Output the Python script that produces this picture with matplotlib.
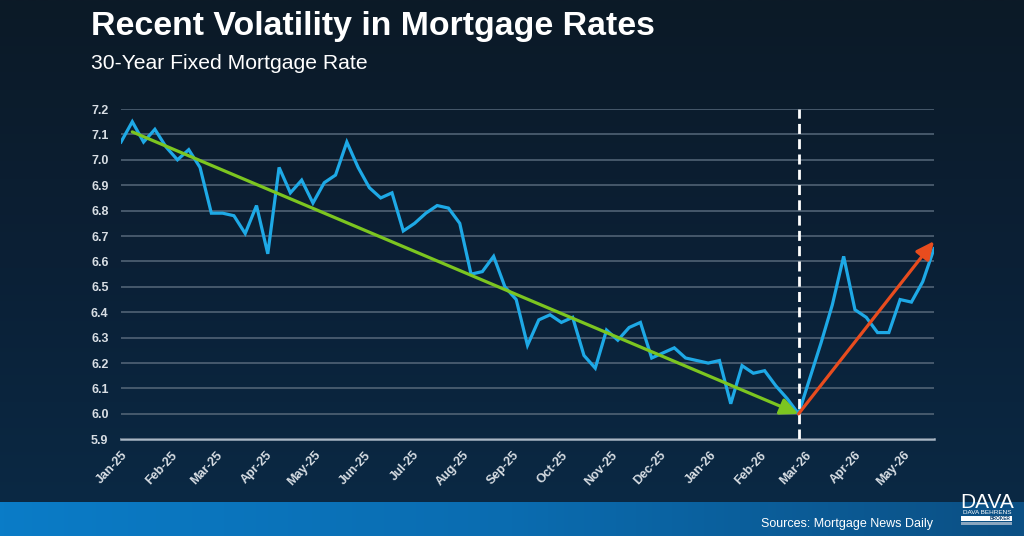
import numpy as np
import pandas as pd
import matplotlib
matplotlib.use('Agg')
import matplotlib.pyplot as plt
import matplotlib.dates as mdates
from matplotlib.colors import LinearSegmentedColormap
from matplotlib.patches import Rectangle

# ---------------- data ----------------
start_date = '2025-01-01'
rates = [7.07, 7.15, 7.07, 7.12, 7.05, 7.00, 7.04, 6.97, 6.79, 6.79,
         6.78, 6.71, 6.82, 6.63, 6.97, 6.87, 6.92, 6.83, 6.91, 6.94,
         7.07, 6.97, 6.89, 6.85, 6.87, 6.72, 6.75, 6.79, 6.82, 6.81,
         6.75, 6.55, 6.56, 6.62, 6.50, 6.45, 6.27, 6.37, 6.39, 6.36,
         6.38, 6.23, 6.18, 6.33, 6.29, 6.34, 6.36, 6.22, 6.24, 6.26,
         6.22, 6.21, 6.20, 6.21, 6.04, 6.19, 6.16, 6.17, 6.11, 6.06,
         6.00, 6.14, 6.28, 6.43, 6.62, 6.41, 6.38, 6.32, 6.32, 6.45,
         6.44, 6.52, 6.65]
dates = pd.date_range(start_date, periods=len(rates), freq='7D')

y_ticks = [5.9, 6.0, 6.1, 6.2, 6.3, 6.4, 6.5, 6.6, 6.7, 6.8, 6.9, 7.0, 7.1, 7.2]
down_trend_start = 7.11   # value where the green trend arrow starts (2nd week)
down_trend_start_idx = 1
up_trend_end = 6.68       # value where the red trend arrow ends (last week)

title = 'Recent Volatility in Mortgage Rates'
subtitle = '30-Year Fixed Mortgage Rate'
source = 'Sources: Mortgage News Daily'

# ---------------- figure ----------------
W, H = 1024, 536
fig = plt.figure(figsize=(W / 100, H / 100), dpi=100)
plt.rcParams['font.family'] = ['Liberation Sans', 'DejaVu Sans']

# background gradient
bg = fig.add_axes([0, 0, 1, 1], zorder=-10)
bg.set_xlim(0, 1)
bg.set_ylim(0, 1)
bg.axis('off')
vcmap = LinearSegmentedColormap.from_list('v', ['#0a2a46', '#0b2036', '#0c1a27'])
grad = np.linspace(0, 1, 256).reshape(-1, 1)
bg.imshow(grad, extent=[0, 1, 0, 1], aspect='auto', cmap=vcmap, origin='lower')
band_h = 34 / H
hcmap = LinearSegmentedColormap.from_list('h', ['#0a7cc7', '#0a6cb0', '#0c4f83'])
hgrad = np.linspace(0, 1, 256).reshape(1, -1)
bg.imshow(hgrad, extent=[0, 1, 0, band_h], aspect='auto', cmap=hcmap, origin='lower')

# main axes
left, right = 121 / W, 934 / W
bottom, top = 1 - 439.3 / H, 1 - 109 / H
ax = fig.add_axes([left, bottom, right - left, top - bottom])
ax.patch.set_alpha(0)

ax.set_ylim(y_ticks[0], y_ticks[-1])
ax.set_yticks(y_ticks)
ax.set_yticklabels([f'{v:.1f}' for v in y_ticks])
ax.set_xlim(dates[0], dates[-1])
ax.xaxis.set_major_locator(mdates.MonthLocator())
ax.xaxis.set_major_formatter(mdates.DateFormatter('%b-%y'))

for s in ['top', 'right', 'left']:
    ax.spines[s].set_visible(False)
ax.spines['bottom'].set_color('#a9b7c4')
ax.spines['bottom'].set_linewidth(1.8)
ax.spines['bottom'].set_zorder(1)

ax.grid(axis='y', color='#56687a', lw=1.1, zorder=0)
ax.grid(axis='x', visible=False)
ax.tick_params(axis='both', length=0, colors='#d8dee4', labelsize=9)
ax.tick_params(axis='y', pad=9)
ax.tick_params(axis='x', pad=7)
for lab in ax.get_yticklabels():
    lab.set_fontweight('bold')
for lab in ax.get_xticklabels():
    lab.set_rotation(47)
    lab.set_ha('right')
    lab.set_rotation_mode('anchor')
    lab.set_fontweight('bold')

# rate line
ax.plot(dates, rates, color='#1ea9e6', lw=2.3, zorder=3, solid_joinstyle='miter')

low_idx = int(np.argmin(rates))
ax.axvline(dates[low_idx], color='white', lw=2, ls=(0, (3.6, 1.9)), zorder=4)

arrow_style = '-|>,head_length=0.9,head_width=0.42'
ax.annotate('', xy=(dates[low_idx], rates[low_idx]),
            xytext=(dates[down_trend_start_idx], down_trend_start),
            arrowprops=dict(arrowstyle=arrow_style, color='#7cc520', lw=2.3,
                            shrinkA=0, shrinkB=0, mutation_scale=12), zorder=5)
ax.annotate('', xy=(dates[-1], up_trend_end),
            xytext=(dates[low_idx], rates[low_idx]),
            arrowprops=dict(arrowstyle=arrow_style, color='#e84c1e', lw=2.3,
                            shrinkA=0, shrinkB=0, mutation_scale=12), zorder=5)

# titles
fig.text(91 / W, 1 - 35 / H, title, color='white', fontsize=24.4, fontweight='bold',
         va='baseline', ha='left')
fig.text(91 / W, 1 - 69 / H, subtitle, color='white', fontsize=15.2,
         va='baseline', ha='left')
fig.text(933 / W, 1 - 527 / H, source, color='white', fontsize=9,
         va='baseline', ha='right')

# logo
fig.text(987 / W, 1 - 508 / H, 'DAVA', color='white', fontsize=15,
         va='baseline', ha='center')
fig.text(987 / W, 1 - 514.5 / H, 'DAVA BEHRENS', color='white', fontsize=4.6,
         va='baseline', ha='center')
bg.add_patch(Rectangle((961 / W, 1 - 520.5 / H), 51 / W, 4.5 / H,
                       facecolor='white', edgecolor='none'))
fig.text(1011 / W, 1 - 520 / H, 'BROKER', color='#0b3f6e', fontsize=3.4,
         va='baseline', ha='right', fontweight='bold')
bg.add_patch(Rectangle((961 / W, 1 - 525 / H), 51 / W, 3.2 / H,
                       facecolor='#8aa6bf', edgecolor='none'))

fig.savefig('out.png', dpi=100)
